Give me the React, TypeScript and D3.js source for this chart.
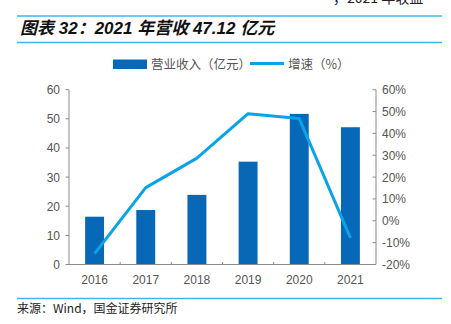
import React from "react";
import * as d3 from "d3";

const years = ["2016", "2017", "2018", "2019", "2020", "2021"];
const revenue = [16.4, 18.7, 23.9, 35.3, 51.7, 47.12];
const growth = [-15, 15.2, 28.7, 49, 46.8, -7.8];
const leftTicks = [0, 10, 20, 30, 40, 50, 60];
const rightTicks = [-20, -10, 0, 10, 20, 30, 40, 50, 60];

const W = 451, H = 324;
const plotL = 69, plotR = 376, plotT = 89.7, plotB = 264.5;
const barColor = "#0868b8";
const lineColor = "#0aa3e8";
const ruleColor = "#41b6ee";
const axisColor = "#8c8c8c";
const textColor = "#555";

export default function App() {
  const x = d3.scaleBand<string>().domain(years).range([plotL, plotR]).paddingInner(0.63).paddingOuter(0.315);
  const xc = d3.scaleBand<string>().domain(years).range([plotL, plotR]);
  const yL = d3.scaleLinear().domain([0, 60]).range([plotB, plotT]);
  const yR = d3.scaleLinear().domain([-20, 60]).range([plotB, plotT]);
  const line = d3
    .line<number>()
    .x((_, i) => (xc(years[i]) as number) + xc.bandwidth() / 2)
    .y((d) => yR(d));
  const font = "Arial, 'Liberation Sans', 'Noto Sans CJK SC', sans-serif";
  const cjk = "'Noto Sans CJK SC', sans-serif";
  return (
    <svg width={W} height={H} style={{ position: "absolute", left: 0, top: 0, background: "#fff" }}>
      <text x={333} y={3} fontSize={14} fill="#222" fontFamily={cjk}>，2021 年收益</text>
      <line x1={17} x2={442} y1={16} y2={16} stroke={ruleColor} strokeWidth={1.5} />
      <text x={20} y={34} fontSize={17} fontWeight="bold" fontStyle="italic" fill="#111" fontFamily={font}>
        图表 32：2021 年营收 47.12 亿元
      </text>
      <line x1={17} x2={442} y1={42.5} y2={42.5} stroke={ruleColor} strokeWidth={1.5} />

      {/* legend */}
      <rect x={113} y={59.5} width={34} height={9.5} fill={barColor} />
      <text x={151} y={68.5} fontSize={12.5} fill={textColor} fontFamily={cjk}>营业收入（亿元）</text>
      <line x1={250} x2={284} y1={63.5} y2={63.5} stroke={lineColor} strokeWidth={3} />
      <text x={288} y={68.5} fontSize={12.5} fill={textColor} fontFamily={cjk}>增速（%）</text>

      {/* bars */}
      {revenue.map((v, i) => (
        <rect key={years[i]} x={x(years[i])} y={yL(v)} width={x.bandwidth()} height={plotB - yL(v)} fill={barColor} />
      ))}

      {/* line */}
      <path d={line(growth) || ""} fill="none" stroke={lineColor} strokeWidth={3} strokeLinejoin="round" />

      {/* axes */}
      <line x1={plotL} x2={plotL} y1={plotT} y2={plotB} stroke={axisColor} />
      <line x1={plotR} x2={plotR} y1={plotT} y2={plotB} stroke={axisColor} />
      <line x1={plotL} x2={plotR} y1={plotB} y2={plotB} stroke={axisColor} />
      {leftTicks.map((t) => (
        <g key={"l" + t}>
          <line x1={plotL - 3.5} x2={plotL} y1={yL(t)} y2={yL(t)} stroke={axisColor} />
          <text x={plotL - 9} y={yL(t) + 4.5} textAnchor="end" fontSize={12} fill={textColor} fontFamily={font}>{t}</text>
        </g>
      ))}
      {rightTicks.map((t) => (
        <g key={"r" + t}>
          <line x1={plotR - 3.5} x2={plotR} y1={yR(t)} y2={yR(t)} stroke={axisColor} />
          <text x={plotR + 6} y={yR(t) + 4.5} textAnchor="start" fontSize={12} fill={textColor} fontFamily={font}>{t}%</text>
        </g>
      ))}
      {years.slice(1).map((y) => (
        <line key={"xt" + y} x1={xc(y)} x2={xc(y)} y1={plotB - 2.5} y2={plotB} stroke={axisColor} />
      ))}
      {years.map((y) => (
        <text key={"xl" + y} x={(xc(y) as number) + xc.bandwidth() / 2} y={284} textAnchor="middle" fontSize={12} fill={textColor} fontFamily={font}>{y}</text>
      ))}

      <line x1={17} x2={442} y1={298.5} y2={298.5} stroke={ruleColor} strokeWidth={1.5} />
      <text x={17} y={313} fontSize={12} fill="#222" fontFamily={cjk}>来源：Wind，国金证券研究所</text>
    </svg>
  );
}
